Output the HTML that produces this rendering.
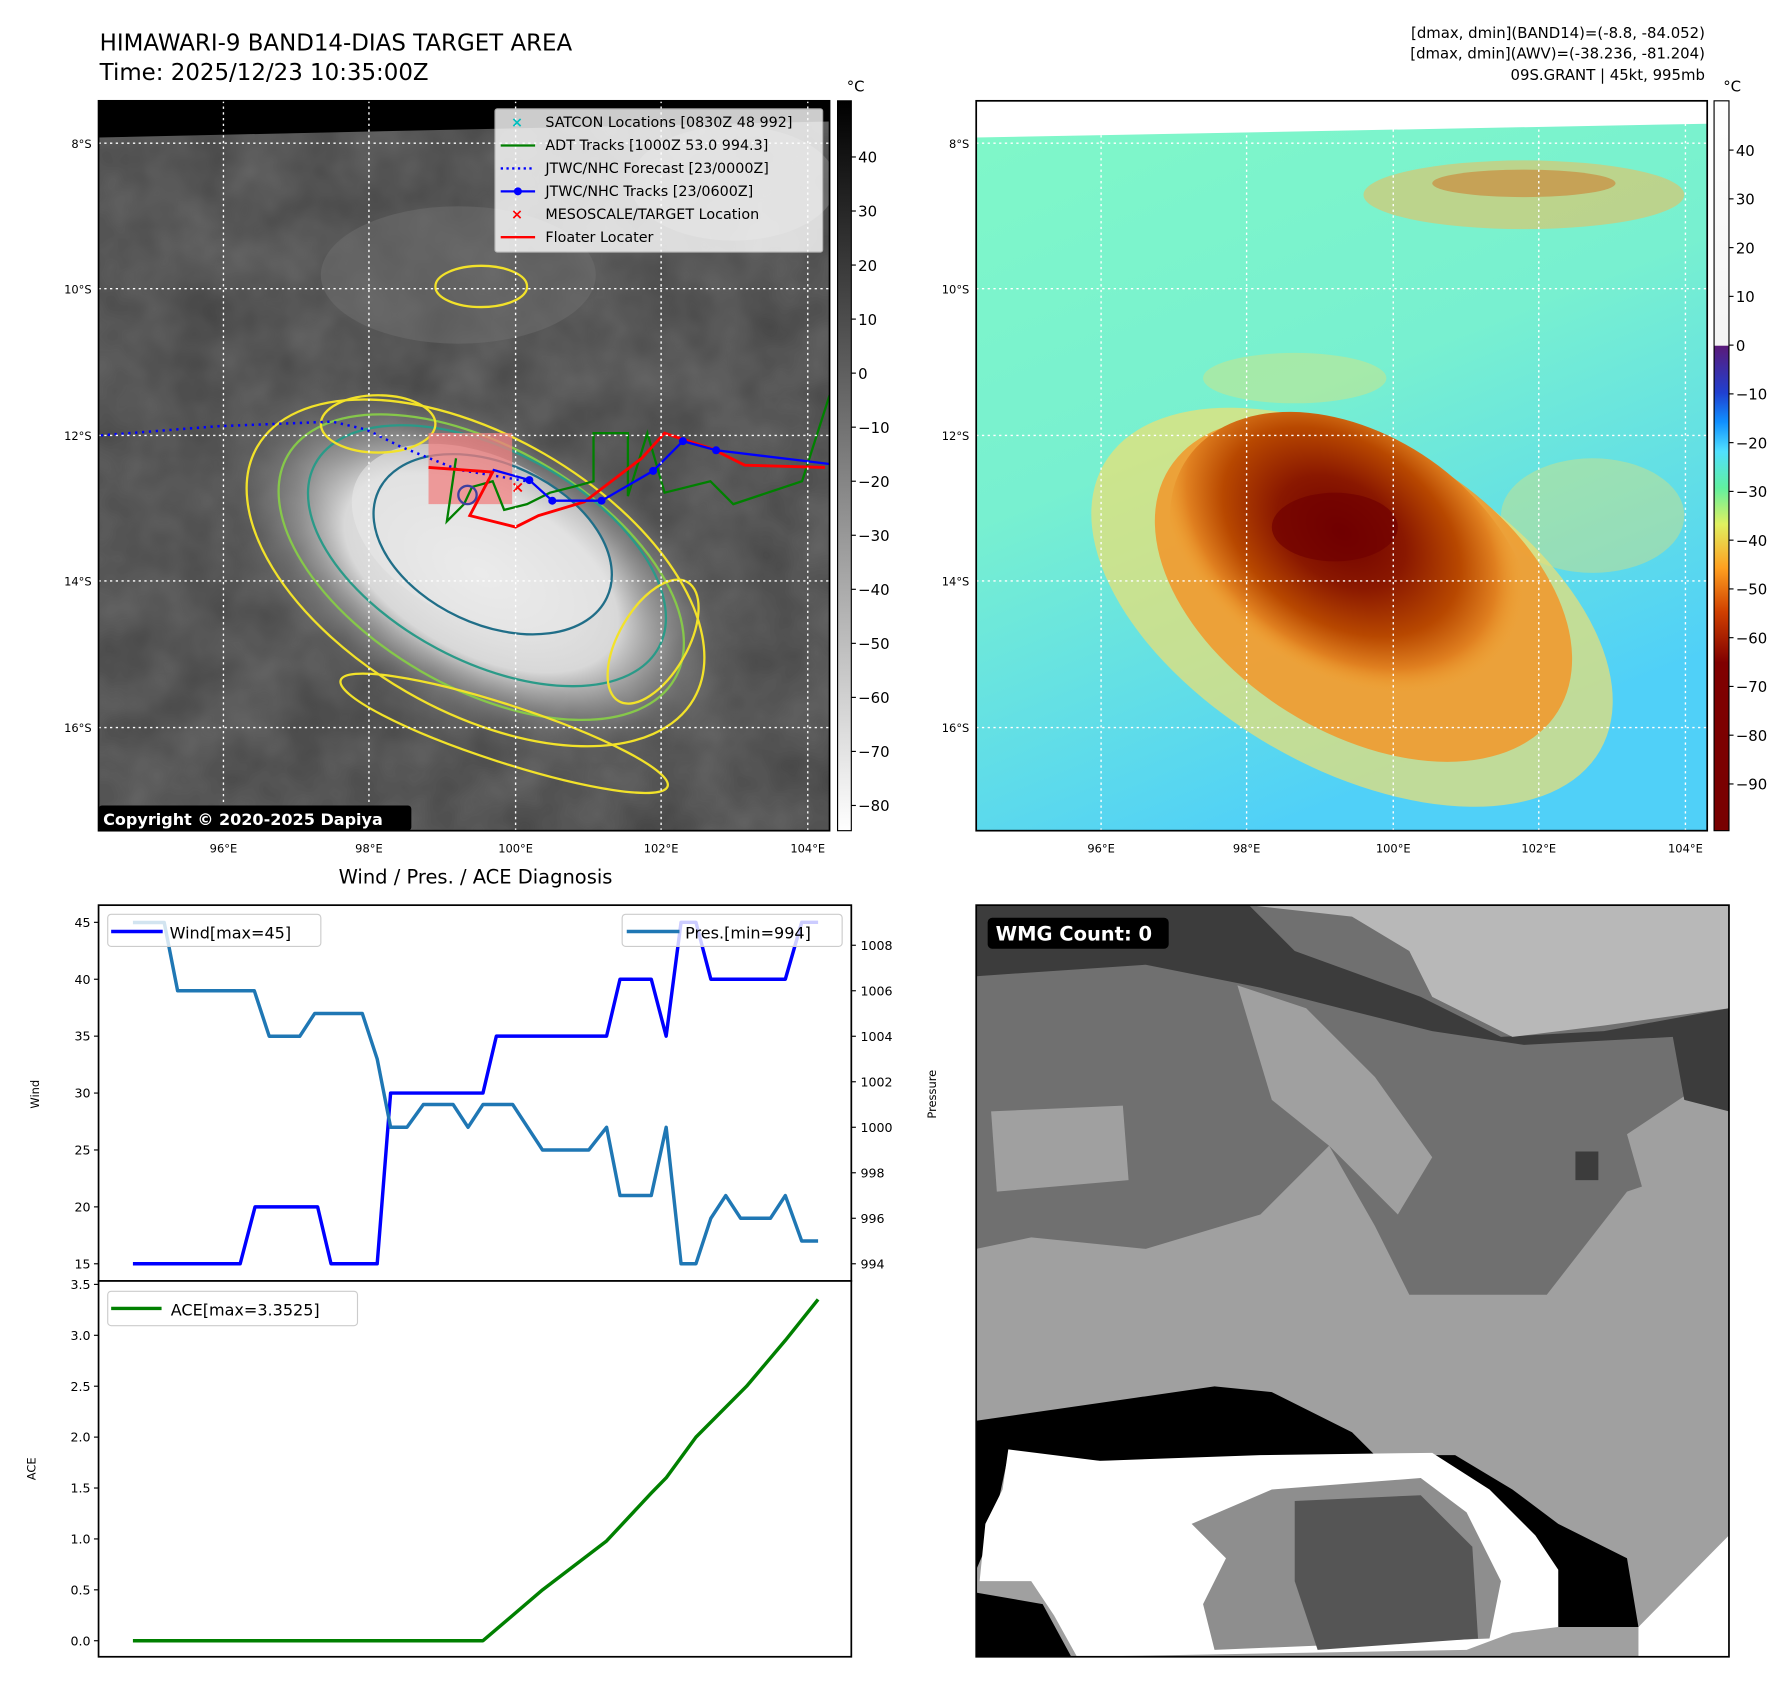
<!DOCTYPE html>
<html><head><meta charset="utf-8"><style>
html,body{margin:0;padding:0;background:#fff;}
svg{display:block;font-family:"DejaVu Sans","Liberation Sans",sans-serif;}
</style></head><body>
<svg id="fig" width="1792" height="1690" viewBox="0 0 1564 1475" xmlns="http://www.w3.org/2000/svg">
<defs>
<linearGradient id="gcb" x1="0" y1="0" x2="0" y2="1"><stop offset="0" stop-color="#000"/><stop offset="1" stop-color="#fff"/></linearGradient>
<linearGradient id="ccb" x1="0" y1="0" x2="0" y2="1">
<stop offset="0" stop-color="#fff"/><stop offset="0.335" stop-color="#f4f4f4"/>
<stop offset="0.336" stop-color="#5a1a7a"/><stop offset="0.40" stop-color="#2040d0"/>
<stop offset="0.44" stop-color="#1090ff"/><stop offset="0.48" stop-color="#50e0ff"/>
<stop offset="0.53" stop-color="#60f0a0"/><stop offset="0.58" stop-color="#e0f060"/>
<stop offset="0.64" stop-color="#ffa020"/><stop offset="0.70" stop-color="#d04000"/>
<stop offset="0.77" stop-color="#800000"/><stop offset="1" stop-color="#780000"/></linearGradient>
<radialGradient id="cloud" cx="0.5" cy="0.5" r="0.5"><stop offset="0" stop-color="#f0f0f0"/><stop offset="0.5" stop-color="#d8d8d8"/><stop offset="1" stop-color="#4a4a4a" stop-opacity="0"/></radialGradient>
<radialGradient id="core" cx="0.42" cy="0.4" r="0.5"><stop offset="0" stop-color="#700000"/><stop offset="0.35" stop-color="#8a1800"/><stop offset="0.65" stop-color="#b84800"/><stop offset="0.85" stop-color="#e08020"/><stop offset="1" stop-color="#f0a030" stop-opacity="0"/></radialGradient>
<linearGradient id="bgc" x1="0" y1="0" x2="0.4" y2="1"><stop offset="0" stop-color="#80f8c8"/><stop offset="0.5" stop-color="#78f0d0"/><stop offset="1" stop-color="#50d0f8"/></linearGradient>
<filter id="tex"><feTurbulence type="fractalNoise" baseFrequency="0.02" numOctaves="3" seed="3"/><feColorMatrix type="matrix" values="0 0 0 0 0.5 0 0 0 0 0.5 0 0 0 0 0.5 0 0 0 0.5 0"/></filter>
<clipPath id="clipL"><rect x="86" y="88" width="638" height="637"/></clipPath>
<clipPath id="clipR"><rect x="852" y="88" width="638" height="637"/></clipPath>
<clipPath id="clipB"><rect x="852" y="790" width="657" height="656"/></clipPath>
</defs>

<text x="87" y="44" font-size="20">HIMAWARI-9 BAND14-DIAS TARGET AREA</text>
<text x="87" y="70" font-size="20">Time: 2025/12/23 10:35:00Z</text>
<g font-size="13" text-anchor="end">
<text x="1488" y="33">[dmax, dmin](BAND14)=(-8.8, -84.052)</text>
<text x="1488" y="51">[dmax, dmin](AWV)=(-38.236, -81.204)</text>
<text x="1488" y="70">09S.GRANT | 45kt, 995mb</text>
</g>

<g clip-path="url(#clipL)">
<rect x="86" y="88" width="638" height="637" fill="#454545"/>
<rect x="86" y="88" width="638" height="637" filter="url(#tex)" opacity="0.6"/>
<ellipse cx="400" cy="240" rx="120" ry="60" fill="#707070" opacity="0.5"/>
<ellipse cx="640" cy="160" rx="90" ry="50" fill="#8a8a8a" opacity="0.5"/>
<ellipse cx="420" cy="500" rx="260" ry="140" transform="rotate(28 420 500)" fill="url(#cloud)"/>
<ellipse cx="420" cy="470" rx="120" ry="72" transform="rotate(25 420 470)" fill="#e8e8e8" opacity="0.6"/>
<polygon points="86,88 724,88 724,106 86,120" fill="#000"/>
<g fill="none" stroke-width="2">
<ellipse cx="415" cy="500" rx="220" ry="120" transform="rotate(30 415 500)" stroke="#f2e22a"/>
<ellipse cx="420" cy="495" rx="195" ry="105" transform="rotate(30 420 495)" stroke="#86c84a"/>
<ellipse cx="425" cy="485" rx="170" ry="92" transform="rotate(28 425 485)" stroke="#2a9a88"/>
<ellipse cx="430" cy="475" rx="110" ry="70" transform="rotate(25 430 475)" stroke="#206e88"/>
<ellipse cx="440" cy="640" rx="150" ry="25" transform="rotate(18 440 640)" stroke="#f2e22a"/>
<ellipse cx="420" cy="250" rx="40" ry="18" stroke="#f2e22a"/>
<ellipse cx="330" cy="370" rx="50" ry="25" stroke="#f2e22a"/>
<ellipse cx="570" cy="560" rx="30" ry="60" transform="rotate(30 570 560)" stroke="#f2e22a"/>
</g>
<rect x="374" y="378" width="73" height="62" fill="#f08080" opacity="0.75"/>
<polyline points="88,380 190,372 290,368 320,375 350,390 400,410 460,420" fill="none" stroke="#0000ff" stroke-width="2.2" stroke-dasharray="2,4"/>
<polyline points="398,400 390,455 405,440 412,425 430,420 440,445 460,440 480,430 500,425 518,420 518,378 548,378 548,433 565,378 580,430 620,420 640,440 700,420 724,345" fill="none" stroke="#008000" stroke-width="2"/>
<polyline points="374,408 430,412 410,450 450,460 470,450 510,438 560,400 580,378 622,392 650,406 720,408" fill="none" stroke="#ff0000" stroke-width="2.5"/>
<polyline points="430,410 462,419 482,437 525,437 570,411 596,385 625,393 700,402 724,405" fill="none" stroke="#0000ff" stroke-width="2"/>
<g fill="#0000ff"><circle cx="462" cy="419" r="3.5"/><circle cx="482" cy="437" r="3.5"/><circle cx="525" cy="437" r="3.5"/><circle cx="570" cy="411" r="3.5"/><circle cx="596" cy="385" r="3.5"/><circle cx="625" cy="393" r="3.5"/></g>
<text x="446" y="430" fill="#ff0000" font-size="14" font-weight="bold">×</text>
<circle cx="408" cy="432" r="8" fill="none" stroke="#4040a0" stroke-width="2"/>
<g stroke="#fff" stroke-dasharray="2,3" stroke-width="1.2">
<line x1="195" y1="88" x2="195" y2="725"/><line x1="322" y1="88" x2="322" y2="725"/><line x1="450" y1="88" x2="450" y2="725"/><line x1="577" y1="88" x2="577" y2="725"/><line x1="705" y1="88" x2="705" y2="725"/>
<line x1="86" y1="125" x2="724" y2="125"/><line x1="86" y1="252" x2="724" y2="252"/><line x1="86" y1="380" x2="724" y2="380"/><line x1="86" y1="507" x2="724" y2="507"/><line x1="86" y1="635" x2="724" y2="635"/>
</g>
</g>
<rect x="86" y="88" width="638" height="637" fill="none" stroke="#000" stroke-width="1.5"/>
<g font-size="12.5">
<rect x="432" y="95" width="286" height="125" fill="#fff" opacity="0.8" stroke="#ccc" rx="2"/>
<text x="446" y="111" fill="#00bfbf" font-weight="bold">×</text><text x="476" y="111">SATCON Locations [0830Z 48 992]</text>
<line x1="437" y1="127" x2="467" y2="127" stroke="#008000" stroke-width="2"/><text x="476" y="131">ADT Tracks [1000Z 53.0 994.3]</text>
<line x1="437" y1="147" x2="467" y2="147" stroke="#0000ff" stroke-width="2" stroke-dasharray="2,3"/><text x="476" y="151">JTWC/NHC Forecast [23/0000Z]</text>
<line x1="437" y1="167" x2="467" y2="167" stroke="#0000ff" stroke-width="2"/><circle cx="452" cy="167" r="3.5" fill="#0000ff"/><text x="476" y="171">JTWC/NHC Tracks [23/0600Z]</text>
<text x="446" y="191" fill="#ff0000" font-weight="bold">×</text><text x="476" y="191">MESOSCALE/TARGET Location</text>
<line x1="437" y1="207" x2="467" y2="207" stroke="#ff0000" stroke-width="2"/><text x="476" y="211">Floater Locater</text>
</g>
<g><rect x="86" y="703" width="273" height="22" fill="#000" rx="3"/><text x="90" y="720" fill="#fff" font-size="14" font-weight="bold">Copyright © 2020-2025 Dapiya</text></g>
<g font-size="10" text-anchor="end">
<text x="80" y="129">8°S</text><text x="80" y="256">10°S</text><text x="80" y="384">12°S</text><text x="80" y="511">14°S</text><text x="80" y="639">16°S</text>
<text x="846" y="129">8°S</text><text x="846" y="256">10°S</text><text x="846" y="384">12°S</text><text x="846" y="511">14°S</text><text x="846" y="639">16°S</text>
</g>
<g font-size="10" text-anchor="middle">
<text x="195" y="744">96°E</text><text x="322" y="744">98°E</text><text x="450" y="744">100°E</text><text x="577" y="744">102°E</text><text x="705" y="744">104°E</text>
<text x="961" y="744">96°E</text><text x="1088" y="744">98°E</text><text x="1216" y="744">100°E</text><text x="1343" y="744">102°E</text><text x="1471" y="744">104°E</text>
</g>
<g>
<rect x="731" y="88" width="12" height="637" fill="url(#gcb)" stroke="#000"/>
<text x="739" y="80" font-size="13">°C</text>
<g font-size="13" id="gcbt"></g>
</g>

<g clip-path="url(#clipR)">
<rect x="852" y="88" width="638" height="637" fill="url(#bgc)"/>
<ellipse cx="1330" cy="170" rx="140" ry="30" fill="#e8c060" opacity="0.6"/>
<ellipse cx="1330" cy="160" rx="80" ry="12" fill="#d07020" opacity="0.5"/>
<ellipse cx="1130" cy="330" rx="80" ry="22" fill="#e8e070" opacity="0.4"/>
<ellipse cx="1390" cy="450" rx="80" ry="50" fill="#e8e070" opacity="0.4"/>
<ellipse cx="1180" cy="530" rx="250" ry="140" transform="rotate(30 1180 530)" fill="#f0e070" opacity="0.7"/>
<ellipse cx="1190" cy="515" rx="200" ry="125" transform="rotate(32 1190 515)" fill="#f09a30" opacity="0.9"/>
<ellipse cx="1180" cy="500" rx="175" ry="120" transform="rotate(35 1180 500)" fill="url(#core)"/>
<ellipse cx="1165" cy="460" rx="55" ry="30" fill="#700000" opacity="0.7"/>
<polygon points="852,88 1490,88 1490,108 852,120" fill="#fff"/>
<g stroke="#fff" stroke-dasharray="2,3" stroke-width="1.2">
<line x1="961" y1="88" x2="961" y2="725"/><line x1="1088" y1="88" x2="1088" y2="725"/><line x1="1216" y1="88" x2="1216" y2="725"/><line x1="1343" y1="88" x2="1343" y2="725"/><line x1="1471" y1="88" x2="1471" y2="725"/>
<line x1="852" y1="125" x2="1490" y2="125"/><line x1="852" y1="252" x2="1490" y2="252"/><line x1="852" y1="380" x2="1490" y2="380"/><line x1="852" y1="507" x2="1490" y2="507"/><line x1="852" y1="635" x2="1490" y2="635"/>
</g>
</g>
<rect x="852" y="88" width="638" height="637" fill="none" stroke="#000" stroke-width="1.5"/>
<g>
<rect x="1496" y="88" width="13" height="637" fill="url(#ccb)" stroke="#000"/>
<text x="1504" y="80" font-size="13">°C</text>
<g font-size="13" id="ccbt"></g>
</g>

<text x="415" y="771" font-size="17" text-anchor="middle">Wind / Pres. / ACE Diagnosis</text>
<g id="windplot"></g>
<g id="aceplot"></g>

<g clip-path="url(#clipB)">
<rect x="852" y="790" width="657" height="656" fill="#707070"/>
<polygon points="852,1090 900,1080 1000,1090 1100,1060 1160,1000 1200,1070 1230,1130 1350,1130 1420,1040 1509,1010 1509,1446 852,1446" fill="#a0a0a0"/>
<polygon points="865,970 980,965 985,1030 870,1040" fill="#a0a0a0"/>
<polygon points="1080,860 1140,880 1200,940 1250,1010 1220,1060 1160,1000 1110,960" fill="#a0a0a0"/>
<polygon points="1420,990 1480,950 1509,960 1509,1020 1440,1060" fill="#a0a0a0"/>
<polygon points="852,790 1090,790 1130,830 1240,870 1310,905 1400,900 1509,880 1509,970 1470,960 1460,905 1330,912 1250,900 1170,880 1100,862 1000,842 852,852" fill="#3c3c3c"/>
<polygon points="1090,790 1509,790 1509,880 1400,895 1320,905 1250,870 1230,830 1180,800" fill="#b8b8b8"/>
<rect x="1375" y="1005" width="20" height="25" fill="#3c3c3c"/>
<polygon points="852,1240 1060,1210 1110,1215 1180,1250 1200,1270 1270,1270 1320,1300 1360,1330 1420,1360 1430,1420 1360,1420 1350,1380 1300,1330 1250,1290 1100,1275 960,1275 880,1270 865,1340 852,1370" fill="#000"/>
<polygon points="852,1390 910,1400 935,1446 852,1446" fill="#000"/>
<polygon points="880,1265 960,1275 1100,1270 1250,1268 1300,1300 1340,1340 1360,1370 1360,1420 1320,1425 1280,1440 940,1446 920,1410 900,1380 855,1380 860,1330 875,1300" fill="#fff"/>
<polygon points="1040,1330 1110,1300 1240,1290 1280,1320 1310,1380 1300,1430 1060,1440 1050,1400 1070,1360" fill="#8e8e8e"/>
<polygon points="1130,1310 1240,1305 1285,1350 1290,1430 1150,1440 1130,1380" fill="#555"/>
<polygon points="1430,1420 1509,1340 1509,1446 1430,1446" fill="#fff"/>
</g>
<rect x="852" y="790" width="657" height="656" fill="none" stroke="#000" stroke-width="1.5"/>
<g><rect x="862" y="801" width="158" height="27" rx="4" fill="#000"/><text x="869" y="821" fill="#fff" font-size="17" font-weight="bold">WMG Count: 0</text></g>

<script>
// ---- chart data ----
var windTime = [0,7.2,8.2,12.4,13.3,16.4,17.3,23.5,24.4,31.8,32.7,34.8,35.8,36.8,37.8,38.8,43.8,44.9,46];
var windKt   = [15,15,20,20,15,15,30,30,35,35,40,40,35,45,45,40,40,45,45];
var presTime = [0,2.1,3,8.15,9.15,11.2,12.2,15.4,16.4,17.3,18.4,19.5,21.5,22.5,23.5,25.5,27.5,30.6,31.8,32.7,34.8,35.8,36.8,37.8,38.8,39.8,40.8,42.8,43.8,44.9,46];
var presMb   = [1009,1009,1006,1006,1004,1004,1005,1005,1003,1000,1000,1001,1001,1000,1001,1001,999,999,1000,997,997,1000,994,994,996,997,996,996,997,995,995];
var aceTime  = [0,23.5,27.5,31.8,34.8,35.8,37.8,41.2,43.8,46];
var aceVal   = [0,0,0.5,0.98,1.45,1.6,2.0,2.5,2.95,3.3525];
var windTicks = [15,20,25,30,35,40,45];
var presTicks = [994,996,998,1000,1002,1004,1006,1008];
var aceTicks = [0.0,0.5,1.0,1.5,2.0,2.5,3.0,3.5];
var grayCbTicks = [40,30,20,10,0,-10,-20,-30,-40,-50,-60,-70,-80];
var colorCbTicks = [40,30,20,10,0,-10,-20,-30,-40,-50,-60,-70,-80,-90];

var NS = 'http://www.w3.org/2000/svg';
function mk(parent, tag, attrs, txt){var e=document.createElementNS(NS,tag);for(var k in attrs)e.setAttribute(k,attrs[k]);if(txt!=null)e.textContent=txt;parent.appendChild(e);return e;}
function xT(t){return 116 + t*13;}
function yW(w){return 1103 - (w-15)*(298/30);}
function yP(p){return 1103 - (p-994)*(278/14);}
function yA(a){return 1432 - a*(311/3.5);}
function yG(v){return 137 + (40-v)*(566/120);}
function yC(v){return 131 + (40-v)*(383/90);}

var g1=document.getElementById('gcbt');
grayCbTicks.forEach(function(v){
  var ln=mk(g1,'line',{x1:743,x2:747,y1:yG(v),y2:yG(v),stroke:'#000'});
  
  
  var t=mk(g1,'text',{x:749,y:yG(v)+5},(v<0?'\u2212'+(-v):''+v));
  
  
});
var g2=document.getElementById('ccbt');
colorCbTicks.forEach(function(v){
  var ln=mk(g2,'line',{x1:1509,x2:1513,y1:yC(v),y2:yC(v),stroke:'#000'});
  
  
  var t=mk(g2,'text',{x:1515,y:yC(v)+5},(v<0?'\u2212'+(-v):''+v));
  
  
});

var wp=document.getElementById('windplot');
var bx=mk(wp,'rect',{x:86,y:790,width:657,height:328,fill:'#fff',stroke:'#000','stroke-width':1.5});


windTicks.forEach(function(v){
  mk(wp,'line',{x1:82,x2:86,y1:yW(v),y2:yW(v),stroke:'#000'});
  var t=mk(wp,'text',{x:79,y:yW(v)+4,'font-size':11,'text-anchor':'end'},''+v);
  
  
});
presTicks.forEach(function(v){
  mk(wp,'line',{x1:743,x2:747,y1:yP(v),y2:yP(v),stroke:'#000'});
  var t=mk(wp,'text',{x:751,y:yP(v)+4,'font-size':11},''+v);
  
  
});
var yl=mk(wp,'text',{x:0,y:0,'font-size':10,'text-anchor':'middle',transform:'translate(34,955) rotate(-90)'},'Wind');


var yr=mk(wp,'text',{x:0,y:0,'font-size':10,'text-anchor':'middle',transform:'translate(817,955) rotate(-90)'},'Pressure');


var wpts=windTime.map(function(t,i){return xT(t)+','+yW(windKt[i]);}).join(' ');
var wl=mk(wp,'polyline',{points:wpts,fill:'none',stroke:'#0000ff','stroke-width':3,'stroke-linejoin':'round'});


var ppts=presTime.map(function(t,i){return xT(t)+','+yP(presMb[i]);}).join(' ');
var pl=mk(wp,'polyline',{points:ppts,fill:'none',stroke:'#1f77b4','stroke-width':3,'stroke-linejoin':'round'});


var lg1=mk(wp,'g',{});


mk(lg1,'rect',{x:94,y:798,width:186,height:28,fill:'#fff','fill-opacity':0.8,stroke:'#ccc',rx:3});
mk(lg1,'line',{x1:97,x2:142,y1:813,y2:813,stroke:'#0000ff','stroke-width':3});
mk(lg1,'text',{x:148,y:819,'font-size':14},'Wind[max=45]');
var lg2=mk(wp,'g',{});


mk(lg2,'rect',{x:543,y:798,width:192,height:28,fill:'#fff','fill-opacity':0.8,stroke:'#ccc',rx:3});
mk(lg2,'line',{x1:547,x2:593,y1:813,y2:813,stroke:'#1f77b4','stroke-width':3});
mk(lg2,'text',{x:598,y:819,'font-size':14},'Pres.[min=994]');

var ap=document.getElementById('aceplot');
var bx2=mk(ap,'rect',{x:86,y:1118,width:657,height:328,fill:'#fff',stroke:'#000','stroke-width':1.5});


aceTicks.forEach(function(v){
  mk(ap,'line',{x1:82,x2:86,y1:yA(v),y2:yA(v),stroke:'#000'});
  var t=mk(ap,'text',{x:79,y:yA(v)+4,'font-size':11,'text-anchor':'end'},v.toFixed(1));
  
  
});
var al=mk(ap,'text',{x:0,y:0,'font-size':10,'text-anchor':'middle',transform:'translate(31,1282) rotate(-90)'},'ACE');


var apts=aceTime.map(function(t,i){return xT(t)+','+yA(aceVal[i]);}).join(' ');
var acel=mk(ap,'polyline',{points:apts,fill:'none',stroke:'#008000','stroke-width':3,'stroke-linejoin':'round'});


var lg3=mk(ap,'g',{});


mk(lg3,'rect',{x:94,y:1127,width:218,height:30,fill:'#fff','fill-opacity':0.8,stroke:'#ccc',rx:3});
mk(lg3,'line',{x1:97,x2:141,y1:1142,y2:1142,stroke:'#008000','stroke-width':3});
mk(lg3,'text',{x:149,y:1148,'font-size':14},'ACE[max=3.3525]');
</script>
</svg>
</body></html>
